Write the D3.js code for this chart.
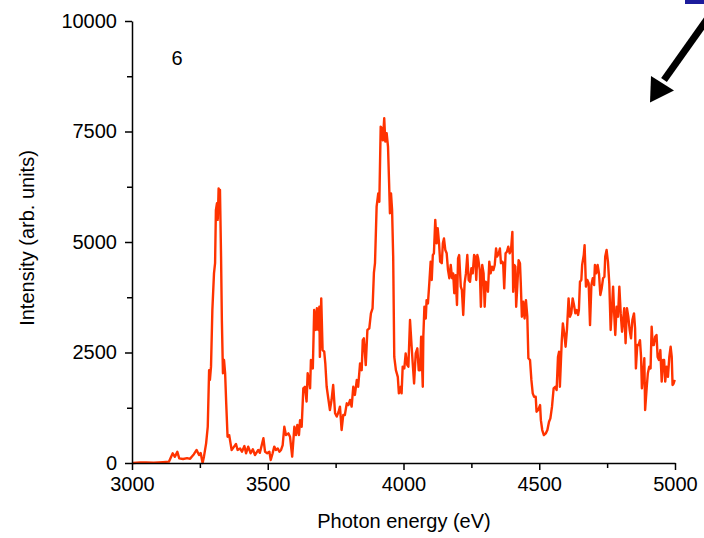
<!DOCTYPE html>
<html>
<head>
<meta charset="utf-8">
<script src="https://cdn.jsdelivr.net/npm/d3@7"></script>
<style>
  body { margin: 0; background: #fff; }
  svg text { font-family: "Liberation Sans", Arial, sans-serif; }
</style>
</head>
<body>
<div class="canvas"></div>
<script>
// photon energy (eV) and intensity (arb. units)
const energy = [
  3000, 3004, 3030, 3052, 3080, 3114, 3136, 3150, 3158, 3167, 3174, 3188, 3203, 3214, 3220, 3228,
  3238, 3247, 3253, 3260, 3265, 3273, 3279, 3284, 3287, 3291, 3296, 3302, 3306, 3309, 3313, 3316,
  3319, 3321, 3324, 3328, 3331, 3335, 3339, 3343, 3347, 3352, 3358, 3367, 3376, 3383, 3389, 3398,
  3405, 3414, 3420, 3428, 3437, 3445, 3453, 3465, 3471,
  3484, 3490, 3498, 3506, 3511, 3518, 3524, 3530, 3537, 3543, 3549, 3555, 3561, 3567, 3576, 3582,
  3590, 3598, 3604, 3609, 3615, 3619, 3625, 3631, 3637, 3643, 3647, 3652, 3656, 3659, 3666, 3671,
  3677, 3681, 3686, 3690, 3692, 3697, 3702, 3708, 3712, 3717, 3723, 3729, 3735, 3741, 3748, 3754,
  3761, 3766, 3772, 3778, 3784, 3791, 3797, 3803, 3809, 3815, 3821, 3828, 3833, 3840, 3846, 3850,
  3854, 3861, 3867, 3874, 3880, 3886, 3891,
  3895, 3901, 3907, 3911, 3916, 3921, 3924, 3929, 3933, 3938, 3943, 3947, 3950, 3954, 3958, 3962,
  3966, 3972, 3979, 3983, 3990, 3993, 3997, 4003, 4008, 4014, 4018, 4024, 4030, 4034, 4039, 4045,
  4051, 4056, 4061, 4065, 4071, 4073, 4077, 4082, 4085, 4090, 4095, 4100, 4104, 4108, 4112, 4117,
  4122, 4126, 4131, 4135, 4141, 4145, 4149, 4154, 4159, 4164, 4169, 4174, 4179, 4183, 4187, 4192,
  4197, 4201, 4205, 4211, 4215, 4220, 4225, 4230, 4235, 4240, 4245, 4250, 4255, 4260, 4264, 4268,
  4272, 4275, 4281, 4285, 4290, 4295, 4299, 4303, 4308, 4311, 4316, 4321, 4326, 4331, 4336, 4341,
  4345, 4351, 4355, 4359, 4364, 4367, 4371, 4376, 4381, 4386, 4391, 4396, 4401, 4404, 4408, 4412,
  4415, 4419, 4424, 4429,
  4432, 4436, 4441, 4446, 4451, 4456, 4460, 4466, 4471, 4476, 4481, 4487, 4490, 4496, 4503, 4506,
  4511, 4517, 4524, 4530, 4536, 4541, 4547, 4553, 4559, 4564, 4569, 4573, 4576, 4583, 4587, 4592,
  4597, 4602, 4608, 4613, 4618, 4623, 4628, 4633, 4638, 4643, 4646, 4650, 4655, 4658, 4664, 4667,
  4672, 4677, 4682, 4687, 4692, 4697, 4702, 4705, 4710, 4715, 4720, 4725, 4730, 4735, 4740, 4743,
  4748, 4753, 4758, 4763, 4768, 4772, 4776, 4780, 4785, 4790, 4795, 4800, 4805, 4809, 4813, 4818,
  4823, 4828, 4833, 4838, 4843, 4849, 4853, 4856, 4861, 4866, 4871, 4875, 4878, 4883, 4887, 4890,
  4896, 4900, 4905, 4910, 4914, 4918, 4922, 4927, 4932, 4936, 4941, 4946, 4951, 4956, 4960, 4964,
  4969, 4974, 4979, 4984, 4988, 4991, 4995, 4999
];
const intensity = [
  0, 0, 10, 15, 5, 20, 30, 220, 140, 255, 105, 90, 110, 95, 143, 200,
  295, 180, 225, 0, 143, 445, 820, 2100, 1880, 2180, 3460, 4290, 4520, 5720, 5880, 5500,
  6210, 6020, 6180, 4670, 3230, 2030, 2330, 2030, 1350, 595, 630, 295, 370, 430, 295, 330,
  255, 385, 220, 370, 220, 310, 180, 295, 230,
  560, 255, 220, 255, 68, 220, 370, 295, 330, 255, 295, 407, 820, 633, 670, 595,
  143, 820, 633, 860, 633, 970, 820, 1690, 1725, 1390, 2030, 1880, 1690, 2330, 2140, 3460,
  3010, 3500, 3010, 3535, 2400, 3725, 2555, 2520, 2255, 1725, 1460, 1200, 1425, 1765, 1125, 1050,
  1160, 1275, 746, 1085, 1085, 1350, 1310, 1425, 1275, 1725, 1540, 1880, 1725, 2255, 2100, 2780,
  2820, 2215, 3010, 3045, 3385, 3500, 4300,
  4520, 5800, 6100, 5910, 7610, 7570, 7300, 7800, 7270, 7460, 7150, 6330, 5650, 6100, 5720, 4670,
  2400, 2100, 1950, 1575, 1725, 1575, 2180, 2140, 2480, 2215, 2180, 3235, 2630, 2255, 1800, 2480,
  2595, 2100, 2100, 2855, 1725, 2855, 3535, 3270, 3685, 3610, 4065, 4555, 4140, 4705, 4745, 5500,
  4970, 5310, 4970, 4555, 4520, 4970, 5080, 4820, 4745, 4365, 4180, 4480, 4180, 4290, 3840, 4250,
  3575, 4630, 4705, 3990, 3915, 3350, 4065, 4290, 4705, 4140, 4100, 4405, 4290, 4705, 4670, 4140,
  4705, 4630, 4365, 3535, 4480, 4290, 3535, 4100, 4065, 3875, 4555, 4290, 4440, 4365, 4480, 4855,
  4670, 4745, 4855, 4520, 4555, 4520, 3950, 4745, 4780, 4895, 4745, 4820, 5230, 3875, 4480, 4440,
  3535, 3990, 4590, 4520,
  4065, 3310, 3650, 3270, 3685, 3310, 2370, 2330, 1880, 1575, 1500, 1500, 1160, 1200, 1310, 970,
  746, 633, 670, 746, 935, 1010, 1275, 1690, 1725, 1650, 2400, 2520, 1725, 2780, 3160, 2935,
  2630, 3010, 3725, 3310, 3385, 3725, 3575, 3385, 3460, 3350, 3460, 4100, 4140, 4480, 4705, 4930,
  3990, 4140, 4065, 3120, 4025, 4180, 4025, 4480, 4290, 4480, 4290, 3800, 3950, 4180, 4215, 4670,
  4820, 4555, 4065, 3010, 3535, 3990, 3385, 2895, 3535, 3310, 3990, 3385, 2970, 3235, 3500, 2710,
  3500, 3310, 3010, 2820, 3235, 3385, 3045, 2140, 2670, 2670, 2780, 2400, 1690, 2030, 2370, 1200,
  1725, 2030, 2180, 2140, 3085, 2670, 2670, 2855, 2895, 2400, 2330, 2555, 1840, 2330, 2330, 1840,
  2180, 1950, 2400, 2630, 2400, 1765, 1800, 1880
];
const xTicks = [3000, 3500, 4000, 4500, 5000];
const xMinor = [3250, 3750, 4250, 4750];
const yTicks = [0, 2500, 5000, 7500, 10000];
const yMinor = [1250, 3750, 6250, 8750];

const width = 704;
const height = 538;
const marginTop = 21;
const marginRight = 29;
const marginBottom = 75;
const marginLeft = 132;

const data = d3.zip(energy, intensity);

const x = d3.scaleLinear()
  .domain([3000, 5000])
  .range([marginLeft, width - marginRight]);

const y = d3.scaleLinear()
  .domain([0, 10000])
  .range([height - marginBottom, marginTop]);

const svg = d3.select(".canvas").append("svg")
  .attr("width", width)
  .attr("height", height)
  .style("display", "block");

svg.append("rect")
  .attr("width", width).attr("height", height)
  .attr("fill", "#fff");

// spectrum
const line = d3.line()
  .x(d => x(d[0]))
  .y(d => y(d[1]));

svg.append("path")
  .datum(data)
  .attr("fill", "none")
  .attr("stroke", "#ff3300")
  .attr("stroke-width", 2.4)
  .attr("stroke-linejoin", "round")
  .attr("d", line);

// axes
svg.append("g")
  .attr("transform", translate(0, height - marginBottom))
  .call(d3.axisBottom(x).tickValues(xTicks).tickSize(7).tickPadding(7).tickSizeOuter(0).tickFormat(d3.format("d")));

svg.append("g")
  .attr("transform", translate(0, height - marginBottom))
  .call(d3.axisBottom(x).tickValues(xMinor).tickSize(5).tickFormat("").tickSizeOuter(0))
  .select(".domain").remove();

svg.append("g")
  .attr("transform", translate(marginLeft, 0))
  .call(d3.axisLeft(y).tickValues(yTicks).tickSize(7).tickPadding(8).tickSizeOuter(0).tickFormat(d3.format("d")));

svg.append("g")
  .attr("transform", translate(marginLeft, 0))
  .call(d3.axisLeft(y).tickValues(yMinor).tickSize(5).tickFormat("").tickSizeOuter(0))
  .select(".domain").remove();

svg.selectAll(".domain, .tick line")
  .attr("stroke", "#000")
  .attr("stroke-width", 1.5);

svg.selectAll(".tick text")
  .attr("fill", "#000")
  .style("font-size", "20px");

// axis titles
svg.append("text")
  .attr("x", 404)
  .attr("y", 528)
  .attr("text-anchor", "middle")
  .style("font-size", "20px")
  .text("Photon energy (eV)");

svg.append("text")
  .attr("transform", "translate(34, 238) rotate(-90)")
  .attr("text-anchor", "middle")
  .style("font-size", "20px")
  .text("Intensity (arb. units)");

svg.append("text")
  .attr("x", 177)
  .attr("y", 65)
  .attr("text-anchor", "middle")
  .style("font-size", "20px")
  .text("6");

// decoration at the top right corner
svg.append("rect")
  .attr("x", 685).attr("y", 0)
  .attr("width", 19).attr("height", 4)
  .attr("fill", "#1c1c9c");

svg.append("line")
  .attr("x1", 708).attr("y1", 18)
  .attr("x2", 664).attr("y2", 80)
  .attr("stroke", "#000")
  .attr("stroke-width", 7);

svg.append("path")
  .attr("d", "M650,102.5 L651,76 L674,90.5 Z")
  .attr("fill", "#000");

function translate(x, y) {
  return "translate(" + x + ", " + y + ")";
}
</script>
</body>
</html>
